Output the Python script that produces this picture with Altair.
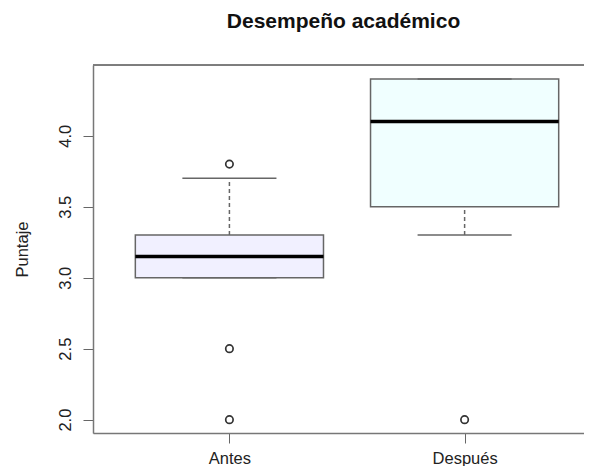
import json
import altair as alt
import pandas as pd

# Summary statistics
groups = ["Antes", "Después"]
q1 = [3.0, 3.5]
median = [3.15, 4.1]
q3 = [3.3, 4.4]
whisker_low = [3.0, 3.3]
whisker_high = [3.7, 4.4]
fills = ["#F1F0FF", "#F0FFFF"]

outlier_group = ["Antes", "Antes", "Antes", "Después"]
outlier_value = [3.8, 2.5, 2.0, 2.0]

y_ticks = [2.0, 2.5, 3.0, 3.5, 4.0]

X_DOMAIN = [0.42, 2.5076]
Y_DOMAIN = [1.906, 4.498]

positions = [i + 1 for i in range(len(groups))]
box_df = pd.DataFrame({
    "group": groups, "pos": positions, "q1": q1, "median": median, "q3": q3,
    "wlo": whisker_low, "whi": whisker_high,
})
out_df = pd.DataFrame({
    "group": outlier_group,
    "pos": [groups.index(g) + 1 for g in outlier_group],
    "value": outlier_value,
})

FONT = "Liberation Sans"
LINE = "#666666"
FRAME = "#777777"

x_scale = alt.Scale(domain=X_DOMAIN, nice=False, zero=False)
x_axis = alt.Axis(
    title=None, values=positions, labelExpr=f"{json.dumps(groups)}[datum.value - 1]",
    labelAngle=0, labelFontSize=16.5, labelColor="#222222", labelFont=FONT,
    labelPadding=20, labelBaseline="alphabetic", labelFlush=False, labelAlign="center",
    ticks=True, tickSize=10, tickColor=LINE, tickWidth=1,
    domain=True, domainColor=FRAME, domainWidth=1.5, grid=False,
)
y_scale = alt.Scale(domain=Y_DOMAIN, nice=False, zero=False)
y_axis = alt.Axis(
    title="Puntaje", values=y_ticks, format=".1f", grid=False,
    domain=True, domainColor=FRAME, domainWidth=1.5,
    tickSize=10, tickColor=LINE, tickWidth=1,
    labelAngle=-90, labelAlign="center", labelBaseline="middle", labelPadding=18,
    labelFontSize=16.5, labelColor="#222222", labelFont=FONT, labelFlush=False,
    titleFont=FONT, titleFontSize=16.5, titleFontWeight="normal", titleColor="#222222",
    titleAngle=-90, titleAlign="center", titleBaseline="middle",
    titleX=-71, titleY=184,
)

base = alt.Chart(box_df).transform_calculate(
    lo="datum.pos - 0.4", hi="datum.pos + 0.4",
    clo="datum.pos - 0.2", chi="datum.pos + 0.2",
)

box = base.mark_rect(stroke=LINE, strokeWidth=1.5).encode(
    x=alt.X("lo:Q", scale=x_scale, axis=x_axis),
    x2="hi:Q",
    y=alt.Y("q1:Q", scale=y_scale, axis=y_axis),
    y2="q3:Q",
    fill=alt.Fill("group:N", scale=alt.Scale(domain=groups, range=fills), legend=None),
)

# top frame line at the top of the y domain
top_frame = alt.Chart(box_df).mark_rule(color=FRAME, strokeWidth=1.5).encode(
    x=alt.datum(X_DOMAIN[0]), x2=alt.datum(X_DOMAIN[1]), y=alt.datum(Y_DOMAIN[1])
)

upper_whisker = base.mark_rule(color=LINE, strokeWidth=1.5, strokeDash=[4, 3]).encode(
    x="pos:Q", y="q3:Q", y2="whi:Q"
)
lower_whisker = base.mark_rule(color=LINE, strokeWidth=1.5, strokeDash=[4, 3]).encode(
    x="pos:Q", y="wlo:Q", y2="q1:Q"
)
cap_hi = base.mark_rule(color=LINE, strokeWidth=1.5).encode(
    x="clo:Q", x2="chi:Q", y="whi:Q"
)
cap_lo = base.mark_rule(color=LINE, strokeWidth=1.5).encode(
    x="clo:Q", x2="chi:Q", y="wlo:Q"
)
med = base.mark_rule(color="#000000", strokeWidth=3.5).encode(
    x="lo:Q", x2="hi:Q", y="median:Q"
)
outliers = alt.Chart(out_df).mark_point(
    filled=False, color="#333333", size=55, strokeWidth=1.7, opacity=1
).encode(
    x="pos:Q", y="value:Q"
)

chart = alt.layer(
    box, top_frame, upper_whisker, lower_whisker, cap_hi, cap_lo, med, outliers
).properties(
    width=491,
    height=368,
    autosize=alt.AutoSizeParams(type="none"),
    padding={"left": 85, "top": 57, "right": 0, "bottom": 33},
    title=alt.Title(
        "Desempeño académico", font=FONT, fontSize=21, fontWeight="bold",
        color="#111111", anchor="middle", baseline="alphabetic", offset=15, dx=5,
    ),
).configure_view(
    stroke=None
).configure(background="white")

chart.save("out.html", embed_options={"renderer": "svg", "actions": False})
